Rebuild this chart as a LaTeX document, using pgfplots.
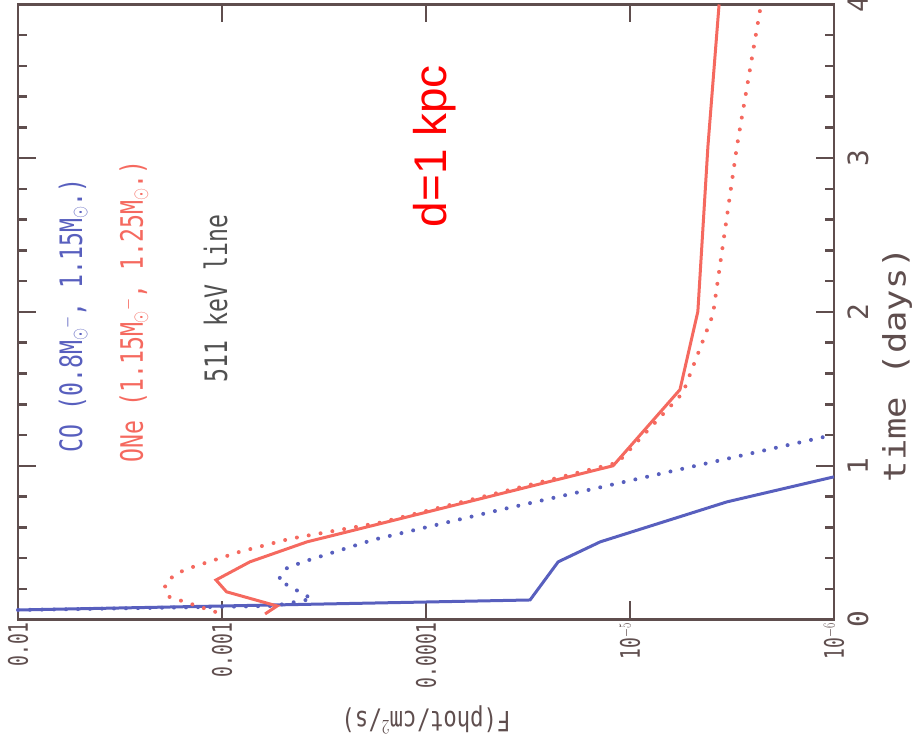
\documentclass[border=0pt]{standalone}
\usepackage{pgfplots}
\pgfplotsset{compat=1.18}
\usepackage{pgfplotstable}
\usepackage{graphicx}
\usepackage{fontspec}
\setmainfont{DejaVu Sans Mono}
\newfontfamily\helv{Liberation Sans}

\definecolor{cblue}{RGB}{88,95,190}
\definecolor{cred}{RGB}{245,105,95}
\definecolor{cframe}{RGB}{95,78,78}
\definecolor{cgrey}{RGB}{80,80,80}

\newcommand\tl[1]{\scalebox{0.67}[1]{#1}}
\newcommand\tx[1]{\scalebox{0.75}[1]{#1}}

% time (days) vs flux (phot/cm^2/s); the figure is drawn turned by 90 degrees
\pgfplotstableread{
t F
0.062 1.0e-2
0.127 3.09e-5
0.375 2.25e-5
0.505 1.40e-5
0.765 3.35e-6
0.928 1.0e-6
}\COsolid
\pgfplotstableread{
t F
0.062 1.0e-2
0.088 5.6e-4
0.134 3.62e-4
0.257 5.3e-4
0.335 4.8e-4
0.375 4.0e-4
0.518 1.82e-4
0.713 4.34e-5
1.202 1.0e-6
}\COdot
\pgfplotstableread{
t F
0.036 6.15e-4
0.088 5.37e-4
0.18 9.5e-4
0.257 1.07e-3
0.375 7.3e-4
0.505 3.83e-4
1.0 1.21e-5
1.495 5.69e-6
2.003 4.65e-6
3.078 4.15e-6
4.0 3.66e-6
}\ONesolid
\pgfplotstableread{
t F
0.05 1.08e-3
0.15 1.84e-3
0.225 1.91e-3
0.295 1.70e-3
0.335 1.44e-3
0.44 8.2e-4
0.525 4.65e-4
0.63 1.68e-4
1.02 1.15e-5
1.475 5.5e-6
1.984 3.92e-6
3.08 2.99e-6
4.0 2.28e-6
}\ONedot

\begin{document}
\begin{tikzpicture}
\begin{axis}[
  scale only axis, width=816bp, height=615bp,
  xmode=log, x dir=reverse,
  xmin=1e-6, xmax=1e-2, ymin=0, ymax=4,
  xtick={1e-2,1e-3,1e-4,1e-5,1e-6},
  xticklabels={\tl{0.01},\tl{0.001},\tl{0.0001},\tl{10$^{-5}$},\tl{10$^{-6}$}},
  ytick={0,1,2,3,4}, yticklabels={0,1,2,3,4}, minor y tick num=4,
  xtick pos=both, ytick pos=both,
  xticklabel pos=left, yticklabel pos=right,
  tick align=inside,
  major tick length=18bp, minor tick length=9bp,
  axis line style={cframe, line width=2.8bp},
  every tick/.style={cframe, line width=2.5bp},
  xticklabel style={font=\fontsize{27}{29}\selectfont, text=cframe, rotate=90, anchor=east},
  yticklabel style={font=\fontsize{28}{30}\selectfont, text=cframe, rotate=90, anchor=north},
  yticklabel shift=10bp,
  clip=false,
]
\addplot[cblue, line width=3bp] table[x=F, y=t] {\COsolid};
\addplot[cblue, line width=4bp, line cap=round, dash pattern=on 0pt off 12bp] table[x=F, y=t] {\COdot};
\addplot[cred, line width=3bp] table[x=F, y=t] {\ONesolid};
\addplot[cred, line width=4bp, line cap=round, dash pattern=on 0pt off 12bp] table[x=F, y=t] {\ONedot};

\node[rotate=90, anchor=base west, inner sep=0, text=cblue, font=\fontsize{31}{33}\selectfont]
  at (axis cs:4.85e-3,1.085) {\tx{CO (0.8M$_\odot$$^-$, 1.15M$_\odot$.)}};
\node[rotate=90, anchor=base west, inner sep=0, text=cred, font=\fontsize{31}{33}\selectfont]
  at (axis cs:2.44e-3,1.02) {\tx{ONe (1.15M$_\odot$$^-$, 1.25M$_\odot$.)}};
\node[rotate=90, anchor=base west, inner sep=0, text=cgrey, font=\fontsize{31}{33}\selectfont]
  at (axis cs:9.44e-4,1.541) {\tx{511 keV line}};
\node[rotate=90, anchor=base west, inner sep=0, text=red, font=\helv\fontsize{46}{50}\selectfont]
  at (axis cs:7.98e-5,2.55) {d=1 kpc};

\node[rotate=180, text=cframe, font=\fontsize{28}{30}\selectfont]
  at (axis cs:1e-4,-0.655) {\scalebox{0.8}[1]{F(phot/cm$^2$/s)}};
\node[rotate=90, text=cframe, font=\fontsize{31}{33}\selectfont]
  at (axis cs:4.9e-7,1.658) {\scalebox{1.15}[1]{time (days)}};

\coordinate (LL) at (axis cs:1e-2,0);
\coordinate (UR) at (axis cs:1e-6,4);
\end{axis}
\pgfresetboundingbox
\path ([shift={(-18bp,-127.5bp)}]LL) rectangle ([shift={(81bp,4.5bp)}]UR);
\end{tikzpicture}
\end{document}
